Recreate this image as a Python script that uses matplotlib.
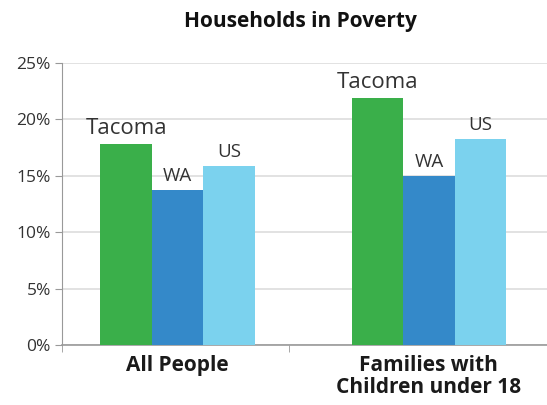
import matplotlib
matplotlib.use('Agg')
import matplotlib.pyplot as plt
import numpy as np

plt.rcParams['font.family'] = ['Open Sans', 'DejaVu Sans']

categories = ['All People', 'Families with\nChildren under 18']
series = ['Tacoma', 'WA', 'US']
tacoma = [17.8, 21.9]
wa = [13.7, 15.0]
us = [15.9, 18.3]
colors = ['#3aaf4a', '#3489c9', '#7bd2ee']
label_sizes = [16, 13.5, 13.5]

fig = plt.figure(figsize=(5.47, 4.05), dpi=100)
ax = fig.add_axes([62 / 547, 60 / 405, 485 / 547, 282 / 405])

x = np.arange(len(categories))
w = 0.205
for i, (name, vals) in enumerate(zip(series, [tacoma, wa, us])):
    pos = x + (i - 1) * w
    ax.bar(pos, vals, width=w, color=colors[i], zorder=3)
    for p, v in zip(pos, vals):
        ax.text(p, v + 0.45, name, ha='center', va='bottom',
                fontsize=label_sizes[i], color='#333333', zorder=4)

ax.set_xlim(-0.46, 1.47)
ax.set_ylim(0, 25)
ax.set_yticks(np.arange(0, 26, 5))
ax.set_yticklabels([f'{t}%' for t in range(0, 26, 5)], fontsize=12.5, color='#333333')
ax.yaxis.grid(True, color='#dddddd', linewidth=1.2, zorder=0)
ax.tick_params(axis='y', length=5, color='#999999', pad=3)

ax.set_xticks(x)
ax.set_xticklabels(categories, fontsize=15, fontweight='bold', color='#1a1a1a',
                   va='top', linespacing=1.1)
ax.tick_params(axis='x', which='major', length=0, pad=7)
ax.set_xticks([-0.46, 0.445], minor=True)
ax.tick_params(axis='x', which='minor', length=5, color='#999999')

for s in ['top', 'right']:
    ax.spines[s].set_visible(False)
ax.spines['left'].set_color('#999999')
ax.spines['bottom'].set_color('#999999')
ax.spines['bottom'].set_linewidth(1.2)

fig.text(300 / 547, 1 - 21 / 405, 'Households in Poverty', ha='center', va='center',
         fontsize=15, fontweight='bold', color='#111111')

fig.savefig('out.png', dpi=100)
